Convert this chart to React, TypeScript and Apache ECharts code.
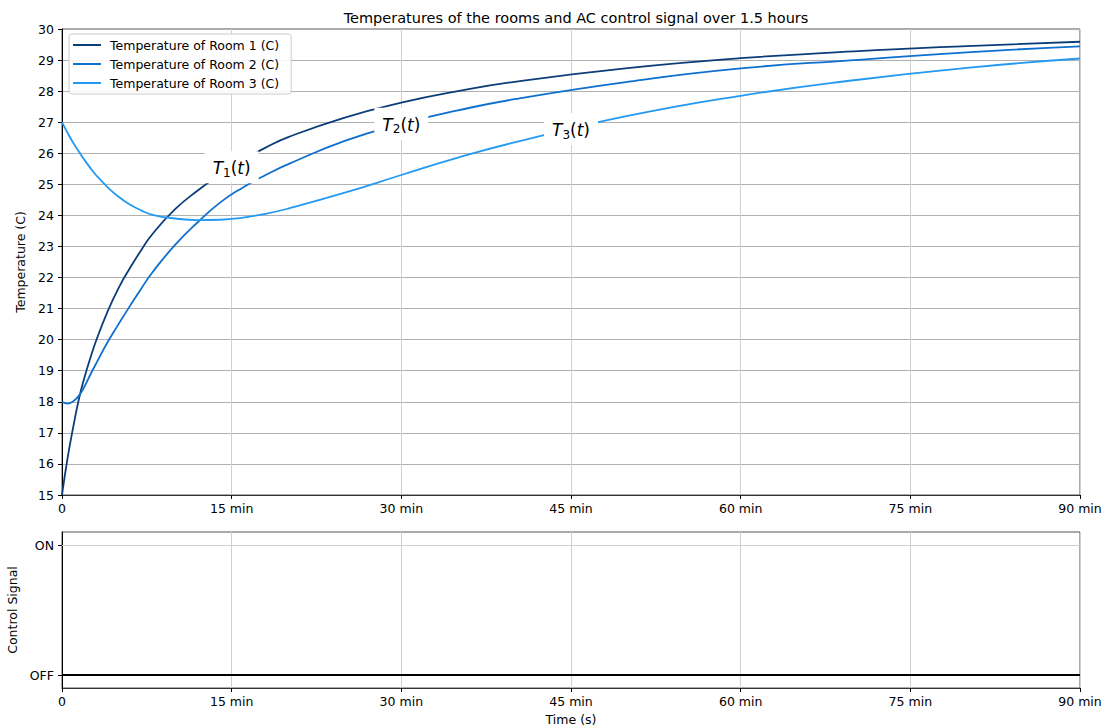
import { useEffect, useRef } from 'react';
import * as echarts from 'echarts';

// Time axis (minutes)
const timeTicks = [0, 15, 30, 45, 60, 75, 90];

// Room 1 temperature (°C) sampled over time (min)
const room1Time = [0, 0.5, 1, 1.5, 2, 2.5, 3, 4, 5, 6, 7, 8, 10, 12, 14, 16, 18, 20, 25, 30, 35, 40, 50, 60, 70, 80, 90];
const room1Temp = [15, 16.2, 17.2, 18.1, 18.8, 19.4, 19.95, 20.88, 21.66, 22.3, 22.88, 23.4, 24.2, 24.8, 25.32, 25.78, 26.18, 26.52, 27.15, 27.63, 28.0, 28.3, 28.74, 29.06, 29.28, 29.45, 29.59];

// Room 2 temperature (°C)
const room2Time = [0, 0.5, 1, 1.5, 2, 2.5, 3, 4, 5, 6, 7, 8, 10, 12, 14, 16, 18, 20, 25, 30, 35, 40, 50, 60, 70, 80, 90];
const room2Temp = [18, 17.94, 18.02, 18.2, 18.5, 18.87, 19.22, 19.9, 20.5, 21.08, 21.64, 22.17, 23.05, 23.78, 24.42, 24.9, 25.3, 25.65, 26.4, 26.95, 27.38, 27.74, 28.3, 28.73, 29.0, 29.25, 29.44];

// Room 3 temperature (°C)
const room3Time = [0, 0.5, 1, 1.5, 2, 2.5, 3, 4, 5, 6, 7, 8, 10, 12, 14, 16, 18, 20, 25, 30, 35, 40, 50, 60, 70, 80, 90];
const room3Temp = [27, 26.65, 26.33, 26.05, 25.78, 25.53, 25.3, 24.92, 24.6, 24.35, 24.16, 24.02, 23.9, 23.85, 23.86, 23.93, 24.05, 24.22, 24.73, 25.3, 25.86, 26.35, 27.2, 27.85, 28.35, 28.75, 29.05];

// AC control signal (0 = OFF, 1 = ON)
const controlTime = [0, 90];
const controlSignal = [0, 0];

const seriesNames = ['Temperature of Room 1 (C)', 'Temperature of Room 2 (C)', 'Temperature of Room 3 (C)'];
const seriesColors = ['#0b3d79', '#0f6fcf', '#2499f2'];
const inlineLabelTimes = [15, 30, 45];

const FONT = 'DejaVu Sans';

function pairs(xs: number[], ys: number[]) {
  return xs.map((x, i) => [x, ys[i]]);
}

// y of a sampled curve at time t, used to pin the inline curve labels onto their lines
function valueAt(xs: number[], ys: number[], t: number) {
  for (let i = 1; i < xs.length; i++) {
    if (t <= xs[i]) {
      const f = (t - xs[i - 1]) / (xs[i] - xs[i - 1]);
      return ys[i - 1] + f * (ys[i] - ys[i - 1]);
    }
  }
  return ys[ys.length - 1];
}

function minuteLabel(v: number) {
  return v === 0 ? '0' : `${v} min`;
}

export default function App() {
  const ref = useRef<HTMLDivElement>(null);

  useEffect(() => {
    if (!ref.current) return;
    const chart = echarts.init(ref.current, undefined, { renderer: 'svg' });

    const rooms = [
      [room1Time, room1Temp],
      [room2Time, room2Temp],
      [room3Time, room3Temp],
    ];

    const mathLabel = (k: number) => `{it|T}{sub|${k}}{rm|(}{it|t}{rm|)}`;

    const tempSeries = rooms.map(([ts, vs], i) => ({
      name: seriesNames[i],
      type: 'line',
      xAxisIndex: 0,
      yAxisIndex: 0,
      data: pairs(ts, vs),
      showSymbol: false,
      smooth: 0.5,
      lineStyle: { color: seriesColors[i], width: 1.8 },
      itemStyle: { color: seriesColors[i] },
      z: 3,
      markPoint: {
        symbol: 'rect',
        symbolSize: 1,
        itemStyle: { color: 'rgba(0,0,0,0)' },
        silent: true,
        data: [
          {
            coord: [inlineLabelTimes[i], valueAt(ts, vs, inlineLabelTimes[i])],
          },
        ],
        label: {
          show: true,
          position: 'inside',
          formatter: mathLabel(i + 1),
          backgroundColor: '#ffffff',
          padding: [7, 8, 5, 8],
          rich: {
            it: { fontFamily: FONT, fontStyle: 'italic', fontSize: 17, color: '#000', lineHeight: 20 },
            rm: { fontFamily: FONT, fontSize: 17, color: '#000', lineHeight: 20 },
            sub: { fontFamily: FONT, fontSize: 12, color: '#000', padding: [9, 0, 0, 0], lineHeight: 20 },
          },
        },
      },
    }));

    const axisLabelStyle = { fontFamily: FONT, fontSize: 12.5, color: '#000' };

    const option: any = {
      animation: false,
      backgroundColor: '#ffffff',
      textStyle: { fontFamily: FONT },
      title: {
        text: 'Temperatures of the rooms and AC control signal over 1.5 hours',
        left: 571,
        top: 5,
        textAlign: 'center',
        textStyle: { fontFamily: FONT, fontSize: 14.5, fontWeight: 'normal', color: '#000' },
      },
      legend: {
        data: seriesNames,
        orient: 'vertical',
        left: 69,
        top: 34,
        padding: [4, 12, 4, 4],
        itemGap: 5,
        itemWidth: 28,
        itemHeight: 2,
        icon: 'rect',
        borderColor: '#cccccc',
        borderWidth: 1,
        borderRadius: 3,
        backgroundColor: 'rgba(255,255,255,0.85)',
        textStyle: { fontFamily: FONT, fontSize: 12.5, color: '#000', lineHeight: 14, padding: [0, 0, 0, 4] },
        z: 10,
      },
      grid: [
        {
          left: 62, top: 29, width: 1018, height: 466,
          outerBoundsMode: 'none', containLabel: false,
          show: true, borderColor: '#555', borderWidth: 1, backgroundColor: 'transparent',
        },
        {
          left: 62, top: 532, width: 1018, height: 156,
          outerBoundsMode: 'none', containLabel: false,
          show: true, borderColor: '#555', borderWidth: 1, backgroundColor: 'transparent',
        },
      ],
      xAxis: [0, 1].map((g) => ({
        type: 'value',
        gridIndex: g,
        min: timeTicks[0],
        max: timeTicks[timeTicks.length - 1],
        interval: 15,
        axisLine: { show: true, onZero: false, lineStyle: { color: '#333', width: 1 } },
        axisTick: { show: true, inside: false, length: 4, lineStyle: { color: '#000' } },
        axisLabel: { ...axisLabelStyle, margin: 7, formatter: minuteLabel },
        splitLine: { show: true, lineStyle: { color: '#d0d0d0', width: 1 } },
        ...(g === 1
          ? {
              name: 'Time (s)',
              nameLocation: 'middle',
              nameGap: 25,
              nameTextStyle: { fontFamily: FONT, fontSize: 12.5, color: '#000' },
            }
          : {}),
      })),
      yAxis: [
        {
          type: 'value',
          gridIndex: 0,
          min: 15,
          max: 30,
          interval: 1,
          name: 'Temperature (C)',
          nameLocation: 'middle',
          nameGap: 31,
          nameRotate: 90,
          nameTextStyle: { fontFamily: FONT, fontSize: 12.5, color: '#000' },
          axisLine: { show: true, lineStyle: { color: '#000', width: 1 } },
          axisTick: { show: true, inside: false, length: 4, lineStyle: { color: '#000' } },
          axisLabel: { ...axisLabelStyle, margin: 8 },
          splitLine: { show: true, lineStyle: { color: '#b0b0b0', width: 1 } },
        },
        {
          type: 'value',
          gridIndex: 1,
          min: -0.1,
          max: 1.1,
          name: 'Control Signal',
          nameLocation: 'middle',
          nameGap: 40,
          nameRotate: 90,
          nameTextStyle: { fontFamily: FONT, fontSize: 12.5, color: '#000' },
          axisLine: { show: true, onZero: false, lineStyle: { color: '#000', width: 1 } },
          axisTick: { show: true, inside: false, length: 4, customValues: [0, 1], lineStyle: { color: '#000' } },
          axisLabel: {
            ...axisLabelStyle,
            margin: 8,
            customValues: [0, 1],
            formatter: (v: number) => (v === 1 ? 'ON' : v === 0 ? 'OFF' : ''),
          },
          splitLine: { show: false },
        },
      ],
      series: [
        ...tempSeries,
        {
          name: 'Control Signal',
          type: 'line',
          xAxisIndex: 1,
          yAxisIndex: 1,
          data: pairs(controlTime, controlSignal),
          showSymbol: false,
          lineStyle: { color: '#000', width: 2 },
          itemStyle: { color: '#000' },
          z: 3,
          markLine: {
            silent: true,
            symbol: 'none',
            label: { show: false },
            lineStyle: { color: '#d0d0d0', width: 1, type: 'solid' },
            data: [{ yAxis: 1 }],
          },
        },
      ],
    };

    chart.setOption(option);
    return () => chart.dispose();
  }, []);

  return (
    <div
      ref={ref}
      style={{ position: 'fixed', left: 0, top: 0, width: 1120, height: 726, background: '#fff' }}
    />
  );
}
